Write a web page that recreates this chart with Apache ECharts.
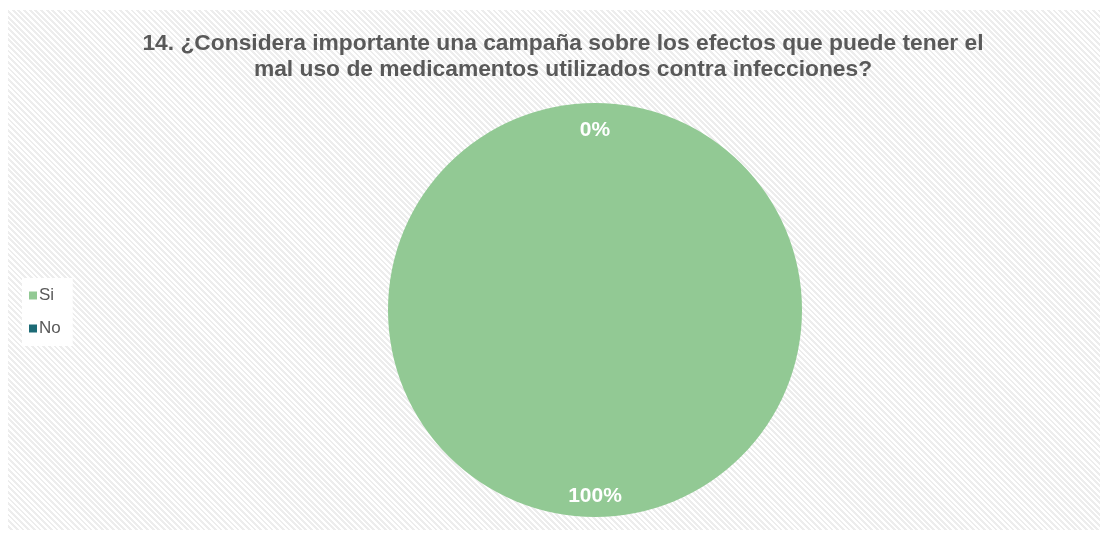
<!DOCTYPE html>
<html>
<head>
<meta charset="utf-8">
<script src="https://cdn.jsdelivr.net/npm/echarts@6/dist/echarts.min.js"></script>
<style>
  html, body { margin: 0; padding: 0; background: #ffffff; }
  #chart {
    position: absolute; left: 8px; top: 10px; width: 1092px; height: 520px;
    background: repeating-linear-gradient(45deg, #ffffff 0 2px, #ededed 2px 4px);
  }
</style>
</head>
<body>
<div id="chart"></div>
<script>
// Survey answers for question 14
const categories = ['Si', 'No'];
const values = [100, 0];
const colors = ['#92c994', '#1d6b76'];
const titleLines = [
  '14. ¿Considera importante una campaña sobre los efectos que puede tener el',
  'mal uso de medicamentos utilizados contra infecciones?'
];

const pieData = categories.map((name, i) => ({ name, value: values[i] }));

const chart = echarts.init(document.getElementById('chart'), null, { renderer: 'canvas' });
chart.setOption({
  backgroundColor: 'transparent',
  animation: false,
  title: {
    text: titleLines.join('\n'),
    left: 550,
    textAlign: 'center',
    top: 16,
    textStyle: {
      fontFamily: 'Liberation Sans, Arial, sans-serif',
      fontWeight: 'bold',
      fontSize: 22.8,
      lineHeight: 26,
      color: '#595959'
    }
  },
  legend: {
    data: categories,
    orient: 'vertical',
    left: 14,
    top: 268,
    backgroundColor: '#ffffff',
    padding: [9, 12, 9, 7],
    itemWidth: 8,
    itemHeight: 8,
    itemGap: 16,
    icon: 'rect',
    selectedMode: false,
    textStyle: {
      fontFamily: 'Liberation Sans, Arial, sans-serif',
      fontSize: 17,
      color: '#595959',
      padding: [0, 0, 0, -3]
    }
  },
  series: [
    {
      // the filled pie
      type: 'pie',
      center: [587, 300],
      radius: [0, 207],
      startAngle: 90,
      clockwise: true,
      silent: true,
      label: { show: false },
      labelLine: { show: false },
      itemStyle: {
        color: (p) => colors[p.dataIndex],
        borderWidth: 0
      },
      data: pieData
    },
    {
      // transparent ring carrying the percentage labels near the rim
      type: 'pie',
      center: [587, 300],
      radius: [153, 207],
      startAngle: 90,
      clockwise: true,
      silent: true,
      itemStyle: { color: 'rgba(0,0,0,0)', borderWidth: 0 },
      labelLine: { show: false },
      label: {
        show: true,
        position: 'inside',
        offset: [0, 3],
        formatter: (p) => Math.round(p.percent) + '%',
        fontFamily: 'Liberation Sans, Arial, sans-serif',
        fontWeight: 'bold',
        fontSize: 21,
        color: '#ffffff'
      },
      data: pieData
    }
  ]
});
</script>
</body>
</html>
